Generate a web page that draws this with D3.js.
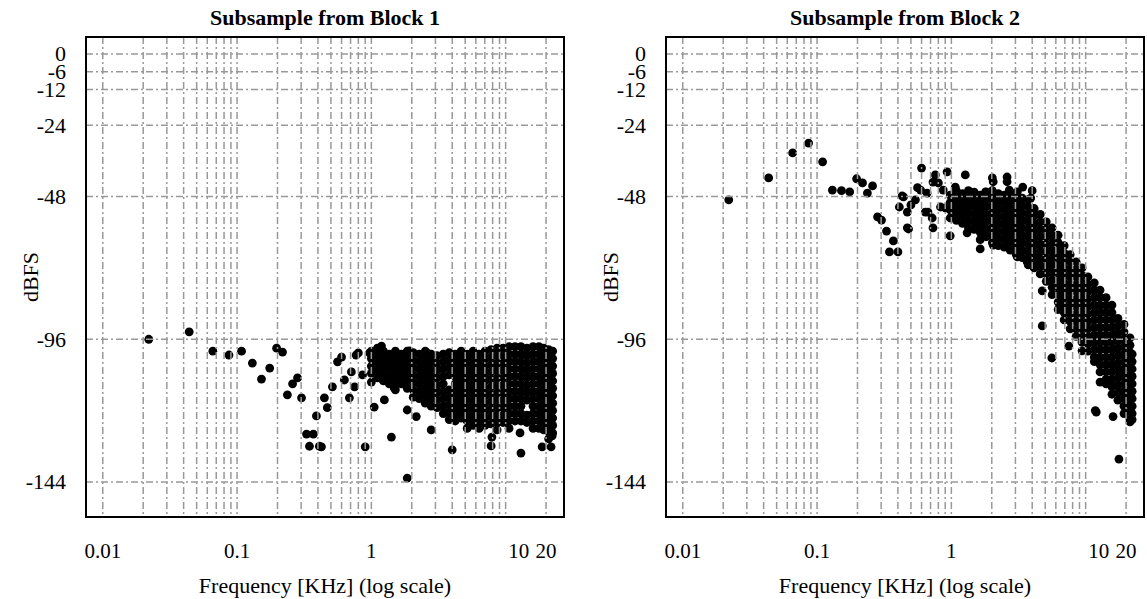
<!DOCTYPE html>
<html><head><meta charset="utf-8">
<script src="https://cdn.jsdelivr.net/npm/d3@7"></script>
<style>
body{margin:0;background:#fff}
</style>
</head><body>
<svg id="c" width="1147" height="599"></svg>
<script>
// ---------- data ----------
const panelTitles = ["Subsample from Block 1", "Subsample from Block 2"];
const xLabel = "Frequency [KHz] (log scale)";
const yLabel = "dBFS";
const yTicks = [0, -6, -12, -24, -48, -96, -144];
const xTicks = [0.01, 0.1, 1, 10, 20];
const xTickLabels = ["0.01", "0.1", "1", "10", "20"];
const xGrid = [0.01,0.02,0.03,0.04,0.05,0.06,0.07,0.08,0.09,
               0.1,0.2,0.3,0.4,0.5,0.6,0.7,0.8,0.9,
               1,2,3,4,5,6,7,8,9,10,20];

// Block 1: isolated points [kHz, dBFS]
const block1Sparse = [
 [0.022,-96],[0.044,-93.5],[0.066,-100],[0.087,-101.3],[0.108,-100],[0.13,-104],[0.152,-109.4],
 [0.175,-105.7],[0.197,-99],[0.218,-100.3],[0.237,-114.7],[0.259,-111],[0.282,-109],[0.302,-115.7],
 [0.329,-127.9],[0.37,-127.9],[0.346,-132],[0.41,-132],[0.39,-121.8],[0.425,-132.2],[0.447,-115.7],
 [0.47,-119],[0.513,-112],[0.56,-103.6],[0.6,-102],[0.63,-109.7],[0.686,-115.7],[0.71,-107],
 [0.75,-112],[0.77,-101.3],[0.8,-100.6],[0.86,-108],[0.9,-132.2],[0.97,-100.6],[1.0,-110.4],
 [1.05,-118.8],[1.19,-98.3],[1.25,-116.4],[1.41,-128.9],[1.48,-112.4],[1.85,-119.8],[1.85,-142.7],
 [2.16,-122],[2.79,-126.5],[4.0,-133.2],[7.9,-128.9],[7.8,-131.9],[12.8,-127.5],[13.0,-134.3],
 [18.7,-132.2],[21.8,-132.2],[22.2,-128.5],[1.92,-99.9],[2.6,-100.6]
];
// Block 1: dense columns [kHz, [dBFS values]]
const block1Dense = [
 [1.00,[-100,-102.5,-105,-107.5]],
 [1.11,[-99,-101.5,-104,-106.5,-109]],
 [1.23,[-100,-102.5,-105,-107.5,-110]],
 [1.36,[-101,-103.5,-106,-108.5,-111]],
 [1.51,[-100,-102.5,-105,-107.5,-110,-113]],
 [1.67,[-101,-103.5,-106,-108.5,-111]],
 [1.85,[-100,-102.5,-105,-107.5,-110,-112.5]],
 [2.05,[-100.5,-103,-105.5,-108,-110.5,-113,-115.5]],
 [2.27,[-101,-103.5,-106,-108.5,-111,-113.5,-116]],
 [2.52,[-100,-102.5,-105,-107.5,-110,-112.5,-115,-117.5]],
 [2.79,[-101,-103.5,-106,-108.5,-111,-113.5,-116,-118.5]],
 [3.09,[-101.5,-104,-106.5,-109,-111.5,-114,-116.5,-119]],
 [3.43,[-101,-103.5,-106,-108.5,-111,-113.5,-116,-118.5,-121]],
 [3.80,[-100.5,-103,-105.5,-108,-113,-115.5,-118,-120.5,-123]],
 [4.21,[-101,-103.5,-106,-108.5,-111,-113.5,-116,-118.5,-121,-123.5]],
 [4.66,[-100,-102.5,-105,-107.5,-110,-112.5,-115,-117.5,-120,-122.5]],
 [5.17,[-101,-103.5,-106,-108.5,-111,-113.5,-116,-118.5,-121,-123.5,-126]],
 [5.73,[-100,-102.5,-105,-107.5,-110,-112.5,-115,-117.5,-120,-122.5,-125]],
 [6.35,[-101,-103.5,-106,-108.5,-111,-113.5,-116,-118.5,-121,-123.5,-126]],
 [7.03,[-100,-102.5,-105,-107.5,-110,-112.5,-115,-117.5,-120,-122.5,-125]],
 [7.79,[-99.5,-102,-104.5,-107,-109.5,-112,-114.5,-117,-119.5,-122,-124.5]],
 [8.64,[-99,-101.5,-104,-106.5,-109,-111.5,-114,-116.5,-119,-121.5,-124,-126.5]],
 [9.57,[-99,-101.5,-104,-106.5,-109,-111.5,-114,-116.5,-119,-121.5,-124]],
 [10.6,[-98.5,-101,-103.5,-106,-108.5,-111,-113.5,-116,-118.5,-121,-123.5,-126]],
 [11.75,[-98.5,-101,-103.5,-106,-108.5,-111,-113.5,-116,-118.5,-121,-123.5]],
 [13.0,[-98.5,-101,-103.5,-106,-108.5,-111,-113.5,-116,-118.5,-121,-123.5]],
 [14.4,[-99,-101.5,-104,-106.5,-109,-111.5,-114,-116.5,-121.5,-124]],
 [16.0,[-98.5,-101,-103.5,-106,-108.5,-111,-113.5,-116,-118.5,-121,-123.5,-126]],
 [17.7,[-98.5,-101,-103.5,-106,-108.5,-111,-113.5,-116,-118.5,-121,-123.5,-126]],
 [19.2,[-99,-101.5,-104,-106.5,-109,-111.5,-114,-116.5,-119,-121.5,-124,-126.5]],
 [20.9,[-99.5,-102,-104.5,-107,-109.5,-112,-114.5,-117,-119.5,-122,-124.5,-127,-129.5]],
 [22.4,[-100,-102.5,-105,-107.5,-110,-112.5,-115,-117.5,-120,-122.5,-125,-127.5]]
];

// Block 2: isolated points [kHz, dBFS]
const block2Sparse = [
 [0.022,-49.1],[0.0436,-41.7],[0.0658,-33.3],[0.0865,-30],[0.11,-36.3],[0.13,-45.8],[0.152,-46],
 [0.175,-46.4],[0.197,-42],[0.218,-43.4],[0.237,-46.8],[0.259,-44.4],[0.282,-54.8],[0.302,-55.9],
 [0.329,-59.6],[0.37,-62.9],[0.346,-66.6],[0.4,-66.6],[0.43,-47.8],[0.41,-51.5],[0.47,-53.2],
 [0.48,-58.9],[0.6,-38.4],[0.76,-40.7],[0.93,-39.7],[1.27,-40.7],[2.02,-41.7],[2.6,-41.4],
 [2.6,-43],[4.0,-46],[3.1,-46.4],[0.44,-48.1],[0.47,-58.5],[0.56,-45],[0.64,-53.2],[0.73,-58.5],
 [0.98,-61.2],[0.98,-55.2],[1.31,-60.2],[1.64,-65.6],[2.05,-64.3],[3.1,-68.3],[3.67,-70],
 [4.75,-79.7],[4.75,-91.5],[5.6,-102.3],[7.5,-98.3],[9.4,-99.9],[12,-120.5],[12.8,-110.4],
 [16,-122],[21.4,-123.8],[17.7,-136.3],[11.8,-120],
 [0.5,-50.8],[0.54,-49.1],[0.59,-45.8],[0.66,-46.8],[0.67,-53.2],[0.72,-55.2],[0.73,-43.1],
 [0.8,-43.4],[0.83,-51.5],[0.87,-45.8],[0.9,-51.8],[1.07,-44.8],[1.11,-49.1],[1.17,-51.5],
 [1.8,-46.4],[2.05,-43],[2.7,-45.8],[3.4,-44.8],[3.9,-48.5]
];
// Block 2: dense columns [kHz, [dBFS values]]
const block2Dense = [
 [0.98,[-47.5,-50,-52.5]],
 [1.09,[-46,-48.5,-51,-53.5,-56]],
 [1.21,[-47,-49.5,-52,-54.5,-57]],
 [1.34,[-46,-48.5,-51,-53.5,-56,-58.5]],
 [1.48,[-46.5,-49,-51.5,-54,-56.5,-59]],
 [1.64,[-47.5,-50,-52.5,-55,-57.5,-60,-62.5]],
 [1.82,[-46.5,-49,-51.5,-54,-56.5,-59,-61.5]],
 [2.02,[-46,-48.5,-51,-53.5,-56,-58.5,-61,-63.5]],
 [2.24,[-47,-49.5,-52,-54.5,-57,-59.5,-62,-64.5]],
 [2.48,[-47.5,-50,-52.5,-55,-57.5,-60,-62.5,-65]],
 [2.74,[-46.5,-49,-51.5,-54,-56.5,-59,-61.5,-64,-66]],
 [3.04,[-47.5,-50,-52.5,-55,-57.5,-60,-62.5,-65,-67.5]],
 [3.37,[-48.5,-51,-53.5,-56,-58.5,-61,-63.5,-66,-68.5]],
 [3.74,[-49,-51.5,-54,-56.5,-59,-61.5,-64,-66.5,-69,-71]],
 [4.14,[-52,-54.5,-57,-59.5,-62,-64.5,-67,-69.5,-72]],
 [4.59,[-54,-56.5,-59,-61.5,-64,-66.5,-69,-71.5,-74]],
 [5.09,[-56.5,-59,-61.5,-64,-66.5,-69,-71.5,-74,-76.5]],
 [5.63,[-58.5,-61,-63.5,-66,-68.5,-71,-73.5,-76,-78.5,-81]],
 [6.24,[-61,-63.5,-66,-68.5,-71,-73.5,-76,-78.5,-81,-83.5,-86]],
 [6.92,[-64.5,-67,-69.5,-72,-74.5,-77,-79.5,-82,-84.5,-87,-89.5]],
 [7.67,[-67.5,-70,-72.5,-75,-77.5,-80,-82.5,-85,-87.5,-90,-92.5]],
 [8.5,[-70,-72.5,-75,-77.5,-80,-82.5,-85,-87.5,-90,-92.5,-95]],
 [9.4,[-72,-74.5,-77,-79.5,-82,-84.5,-87,-89.5,-92,-94.5,-97]],
 [10.4,[-75,-77.5,-80,-82.5,-85,-87.5,-90,-92.5,-95,-97.5,-100]],
 [11.6,[-77,-79.5,-82,-84.5,-87,-89.5,-92,-94.5,-97,-99.5,-102,-103.5]],
 [12.8,[-79.5,-82,-84.5,-87,-89.5,-92,-94.5,-97,-99.5,-102,-104.5,-107]],
 [14.2,[-82,-84.5,-87,-89.5,-92,-94.5,-97,-99.5,-102,-104.5,-107,-109.5,-111]],
 [15.7,[-84.5,-87,-89.5,-92,-94.5,-97,-99.5,-102,-104.5,-107,-109.5,-112,-114.5]],
 [17.4,[-89,-91.5,-94,-96.5,-99,-101.5,-104,-106.5,-109,-111.5,-114,-116.5]],
 [19.3,[-91,-93.5,-96,-98.5,-101,-103.5,-106,-108.5,-111,-113.5,-116,-118.5,-121]],
 [21.4,[-95.5,-98,-100.5,-103,-105.5,-108,-110.5,-113,-115.5,-118,-120.5,-123]],
 [22.2,[-101,-103.5,-106,-108.5,-111,-113.5,-116,-118.5,-121,-123]]
];

// ---------- drawing ----------
const FONT = "Liberation Serif, Times New Roman, DejaVu Serif, serif";
const flatten = (sparse, dense) =>
  sparse.concat(dense.flatMap(([f, vals]) => vals.map(v => [f, v])));
const panels = [
  {x0: 86,  title: panelTitles[0], data: flatten(block1Sparse, block1Dense)},
  {x0: 666, title: panelTitles[1], data: flatten(block2Sparse, block2Dense)}
];
const W = 478, H = 480, plotTop = 37;
const svg = d3.select("#c");

panels.forEach(p => {
  const x = d3.scaleLog().domain([0.0075, 27.2]).range([0, W]);
  const y = d3.scaleLinear().domain([5.7, -155.8]).range([0, H]);
  const g = svg.append("g").attr("transform", `translate(${p.x0},${plotTop})`);

  g.append("g").selectAll("circle").data(p.data).join("circle")
    .attr("cx", d => x(d[0])).attr("cy", d => y(d[1])).attr("r", 4.4)
    .attr("fill", "#000");

  const grid = g.append("g").attr("stroke", "#999").attr("stroke-width", 1.5)
    .attr("stroke-dasharray", "7,3,2,3").attr("fill", "none");
  grid.selectAll(".v").data(xGrid).join("line")
    .attr("x1", d => x(d)).attr("x2", d => x(d)).attr("y1", 0).attr("y2", H);
  grid.selectAll(".h").data(yTicks).join("line")
    .attr("y1", d => y(d)).attr("y2", d => y(d)).attr("x1", 0).attr("x2", W);

  g.append("rect").attr("width", W).attr("height", H)
    .attr("fill", "none").attr("stroke", "#000").attr("stroke-width", 2);

  const txt = g.append("g").attr("font-family", FONT).attr("font-size", 22).attr("fill", "#000");

  // y tick labels
  txt.selectAll(".yt").data(yTicks).join("text")
    .attr("x", -20).attr("y", d => y(d)).attr("dy", "0.33em")
    .attr("text-anchor", "end").text(d => d);

  // x tick labels
  txt.selectAll(".xt").data(xTicks).join("text")
    .attr("x", d => x(d)).attr("y", 521).attr("dx", (d, i) => xTickLabels[i] === "10" ? 13 : 0)
    .attr("text-anchor", "middle").attr("font-size", 21)
    .text((d, i) => xTickLabels[i]);

  txt.append("text").attr("x", W / 2).attr("y", -12).attr("text-anchor", "middle")
    .attr("font-weight", "bold").text(p.title);

  txt.append("text").attr("x", W / 2).attr("y", 556).attr("text-anchor", "middle")
    .text(xLabel);

  txt.append("text").attr("transform", `translate(-55,${H / 2}) rotate(-90)`)
    .attr("dy", "0.33em").attr("text-anchor", "middle")
    .text(yLabel);
});
</script>
</body></html>
